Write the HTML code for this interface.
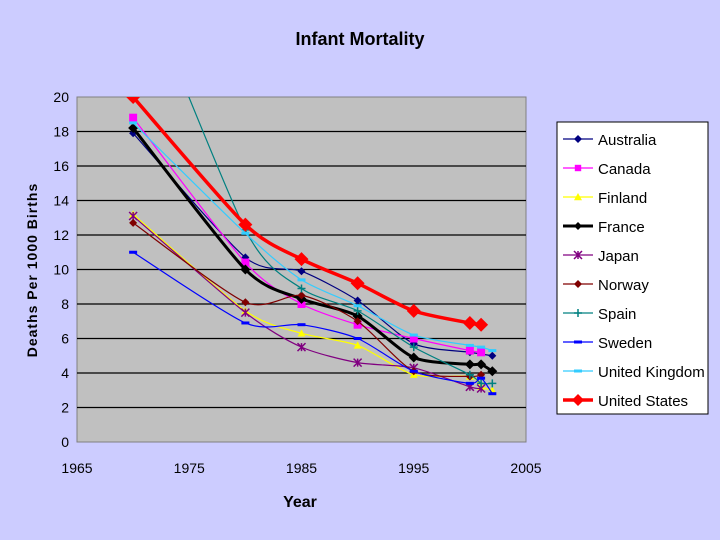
<!DOCTYPE html>
<html><head><meta charset="utf-8"><style>
body{margin:0;background:#ccccff;}
svg{display:block;font-family:"Liberation Sans",Arial,sans-serif;}
</style></head><body>
<svg id="chart" width="720" height="540">
<rect x="0" y="0" width="720" height="540" fill="#ccccff"/>
<text x="360" y="45" text-anchor="middle" font-size="18" font-weight="bold">Infant Mortality</text>
<rect x="77" y="97" width="449" height="345" fill="#c0c0c0" stroke="#808080"/>
<g id="grid"></g>
<g id="axes"></g>
<g id="series"></g>
<text transform="translate(37,270) rotate(-90)" text-anchor="middle" font-size="14" font-weight="bold" letter-spacing="1">Deaths Per 1000 Births</text>
<text x="300" y="507" text-anchor="middle" font-size="16" font-weight="bold">Year</text>
<g id="legend"></g>
</svg>
<script>
const categories=[1970,1980,1985,1990,1995,2000,2001,2002];
const seriesNames=["Australia","Canada","Finland","France","Japan","Norway","Spain","Sweden","United Kingdom","United States"];
const australia=[17.9,10.7,9.9,8.2,5.7,5.2,null,5.0];
const canada=[18.8,10.4,8.0,6.8,6.0,5.3,5.2,null];
const finland=[13.2,7.6,6.3,5.6,3.9,3.8,3.2,3.0];
const france=[18.2,10.0,8.3,7.3,4.9,4.5,4.5,4.1];
const japan=[13.1,7.5,5.5,4.6,4.3,3.2,3.1,null];
const norway=[12.7,8.1,8.5,7.0,4.1,3.8,3.9,null];
const spain=[28.0,12.3,8.9,7.6,5.5,3.9,3.4,3.4];
const sweden=[11.0,6.9,6.8,6.0,4.1,3.4,3.7,2.8];
const uk=[18.5,12.1,9.4,7.9,6.2,5.6,5.5,5.3];
const us=[20.0,12.6,10.6,9.2,7.6,6.9,6.8,null];
const xTicks=[1965,1975,1985,1995,2005];
const yTicks=[0,2,4,6,8,10,12,14,16,18,20];
const allSeries=[australia,canada,finland,france,japan,norway,spain,sweden,uk,us];
const colors=["#000080","#ff00ff","#ffff00","#000000","#800080","#800000","#008080","#0000ff","#33ccff","#ff0000"];
const widths=[1.2,1.2,1.2,3,1.2,1.2,1.2,1.2,1.2,3.5];
const markers=["diamond","square","triangle","diamond","x","diamond","plus","dash","dash","diamond"];
const NS="http://www.w3.org/2000/svg";
const X0=77,X1=526,Y0=442,Y1=97;
function xs(v){return X0+(v-1965)/40*(X1-X0);}
function ys(v){return Y0-v/20*(Y0-Y1);}
function mk(tag,attrs,parent){const e=document.createElementNS(NS,tag);for(const k in attrs)e.setAttribute(k,attrs[k]);parent.appendChild(e);return e;}
const grid=document.getElementById('grid'),axes=document.getElementById('axes'),ser=document.getElementById('series'),leg=document.getElementById('legend');
yTicks.forEach(t=>{
  if(t>0&&t<20){const l=mk('line',{x1:X0,x2:X1,y1:ys(t),y2:ys(t),stroke:'#000','stroke-width':1.2},grid);
  
  }
  const tx=mk('text',{x:X0-8,y:ys(t)+5,'text-anchor':'end','font-size':14},axes);tx.textContent=t;
  
  
});
xTicks.forEach(t=>{
  const tx=mk('text',{x:xs(t),y:Y0+31,'text-anchor':'middle','font-size':14},axes);tx.textContent=t;
  
  
});
const clip=mk('clipPath',{id:'pc'},document.getElementById('chart'));
mk('rect',{x:X0,y:Y1,width:X1-X0,height:Y0-Y1},clip);
function smooth(pts){
  let d='M'+pts[0][0]+','+pts[0][1];
  for(let i=0;i<pts.length-1;i++){
    const p0=pts[i-1]||pts[i],p1=pts[i],p2=pts[i+1],p3=pts[i+2]||p2,k=1/8;
    d+=' C'+(p1[0]+(p2[0]-p0[0])*k)+','+(p1[1]+(p2[1]-p0[1])*k)+' '+(p2[0]-(p3[0]-p1[0])*k)+','+(p2[1]-(p3[1]-p1[1])*k)+' '+p2[0]+','+p2[1];
  }
  return d;
}
function marker(type,x,y,c,s,parent){
  if(type==='diamond')return mk('polygon',{points:`${x},${y-s} ${x+s},${y} ${x},${y+s} ${x-s},${y}`,fill:c},parent);
  if(type==='square')return mk('rect',{x:x-s*0.8,y:y-s*0.8,width:s*1.6,height:s*1.6,fill:c},parent);
  if(type==='triangle')return mk('polygon',{points:`${x},${y-s} ${x+s},${y+s*0.8} ${x-s},${y+s*0.8}`,fill:c},parent);
  if(type==='x')return mk('path',{d:`M${x-s},${y-s}L${x+s},${y+s}M${x+s},${y-s}L${x-s},${y+s}M${x},${y-s}L${x},${y+s}`,stroke:c,'stroke-width':1.5},parent);
  if(type==='plus')return mk('path',{d:`M${x-s},${y}L${x+s},${y}M${x},${y-s}L${x},${y+s}`,stroke:c,'stroke-width':1.5},parent);
  return mk('rect',{x:x-s,y:y-1.5,width:s*2,height:3,fill:c},parent);
}
allSeries.forEach((arr,si)=>{
  const g=mk('g',{'clip-path':'url(#pc)'},ser);
  
  
  const pts=[];arr.forEach((v,i)=>{if(v!==null)pts.push([xs(categories[i]),ys(v)]);});
  mk('path',{d:smooth(pts),fill:'none',stroke:colors[si],'stroke-width':widths[si]},g);
  const big=si===9?7:(si===3||si===1?5:4);
  pts.forEach(p=>{const m=marker(markers[si],p[0],p[1],colors[si],big,g);
    
    });
});
const lb=mk('rect',{x:557,y:122,width:151,height:292,fill:'#fff',stroke:'#000'},leg);


seriesNames.forEach((n,i)=>{
  const y=139+i*29;
  const g=mk('g',{},leg);
  
  
  mk('line',{x1:563,x2:593,y1:y,y2:y,stroke:colors[i],'stroke-width':widths[i]},g);
  marker(markers[i],578,y,colors[i],i===9?6:4,g);
  const t=mk('text',{x:598,y:y+6,'font-size':15},g);t.textContent=n;
});
</script>
</body></html>
